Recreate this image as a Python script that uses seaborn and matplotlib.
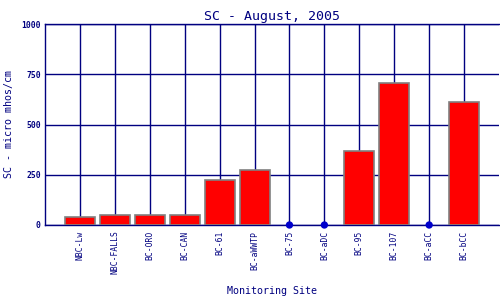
import matplotlib
matplotlib.use('Agg')
import matplotlib.pyplot as plt
import seaborn as sns
import pandas as pd
import numpy as np

sites = ["NBC-Lw", "NBC-FALLS", "BC-ORO", "BC-CAN", "BC-61", "BC-aWWTP",
         "BC-75", "BC-aDC", "BC-95", "BC-107", "BC-aCC", "BC-bCC"]
sc_values = [40, 52, 52, 52, 225, 272, np.nan, np.nan, 368, 708, np.nan, 612]
missing_sites = ["BC-75", "BC-aDC", "BC-aCC"]
missing_values = [0, 0, 0]
y_ticks = [0, 250, 500, 750, 1000]

navy = '#000080'

df = pd.DataFrame({'Site': sites, 'SC': sc_values})
df_missing = pd.DataFrame({'Site': missing_sites, 'SC': missing_values})

sns.set_theme(style='white')
plt.rcParams['font.family'] = ['DejaVu Sans Mono']

fig = plt.figure(figsize=(5, 3), dpi=100)
ax = fig.add_axes([0.09, 0.25, 0.908, 0.67])

sns.barplot(x='Site', y='SC', data=df, order=sites, color='#ff0000',
            edgecolor='#808080', linewidth=1.2, width=0.86, saturation=1,
            zorder=3, ax=ax)
sns.scatterplot(x='Site', y='SC', data=df_missing, color='#0000cc',
                s=28, edgecolor='none', zorder=4, clip_on=False, ax=ax)

ax.set_xlim(-1, len(sites))
ax.set_ylim(0, 1000)
ax.set_yticks(y_ticks)
ax.set_yticklabels([str(t) for t in y_ticks], fontsize=5.8, fontweight='bold', color=navy)
ax.tick_params(axis='x', labelrotation=90, labelsize=5.8, labelcolor=navy, length=0, pad=4)
ax.tick_params(axis='y', length=0, pad=3)
ax.grid(True, color=navy, linewidth=1.0, zorder=0)
ax.set_axisbelow(True)
for name, sp in ax.spines.items():
    sp.set_color(navy)
    sp.set_linewidth(1.0)
ax.spines['right'].set_visible(False)

ax.set_title("SC - August, 2005", fontsize=9.5, color=navy, pad=3)
ax.set_xlabel("Monitoring Site", fontsize=7.2, color=navy, labelpad=8)
ax.set_ylabel("SC - micro mhos/cm", fontsize=7.2, color=navy)
ax.yaxis.set_label_coords(-0.068, 0.5)

plt.savefig("out.png", dpi=100)
plt.close()
